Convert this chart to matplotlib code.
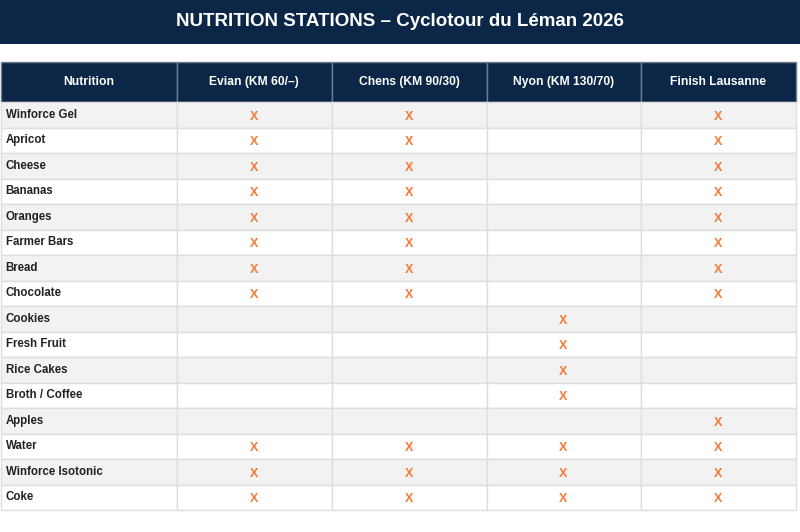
import matplotlib.pyplot as plt
from matplotlib.patches import Rectangle

plt.rcParams['font.family'] = ['Liberation Sans', 'DejaVu Sans']

title = "NUTRITION STATIONS – Cyclotour du Léman 2026"
columns = ["Nutrition", "Evian (KM 60/–)", "Chens (KM 90/30)", "Nyon (KM 130/70)", "Finish Lausanne"]
items = ["Winforce Gel", "Apricot", "Cheese", "Bananas", "Oranges", "Farmer Bars",
         "Bread", "Chocolate", "Cookies", "Fresh Fruit", "Rice Cakes", "Broth / Coffee",
         "Apples", "Water", "Winforce Isotonic", "Coke"]
# 1 = available at station (Evian, Chens, Nyon, Finish)
evian = [1, 1, 1, 1, 1, 1, 1, 1, 0, 0, 0, 0, 0, 1, 1, 1]
chens = [1, 1, 1, 1, 1, 1, 1, 1, 0, 0, 0, 0, 0, 1, 1, 1]
nyon = [0, 0, 0, 0, 0, 0, 0, 0, 1, 1, 1, 1, 0, 1, 1, 1]
finish = [1, 1, 1, 1, 1, 1, 1, 1, 0, 0, 0, 0, 1, 1, 1, 1]
stations = [evian, chens, nyon, finish]

navy = '#0c2647'
orange = '#f47a35'

W, H = 800, 532
fig = plt.figure(figsize=(W / 100, H / 100), dpi=100)
ax = fig.add_axes([0, 0, 1, 1])
ax.set_xlim(0, W)
ax.set_ylim(H, 0)
ax.axis('off')

# title band
ax.add_patch(Rectangle((0, 0), W, 44, facecolor=navy, edgecolor='none'))
ax.text(W / 2, 22, title, color='white', fontsize=13.5, fontweight='bold',
        ha='center', va='center')

col_x = [0.5, 176.5, 331.5, 486.5, 640.5, 795.5]
top, head_h = 62, 40
row_h = (510 - (top + head_h)) / len(items)

# header
for i, name in enumerate(columns):
    x0, x1 = col_x[i], col_x[i + 1]
    ax.add_patch(Rectangle((x0, top), x1 - x0, head_h, facecolor=navy,
                           edgecolor='#6d7b8f', linewidth=1))
    ax.text((x0 + x1) / 2, top + head_h / 2, name, color='white', fontsize=8.7,
            fontweight='bold', ha='center', va='center')

# body
for r, item in enumerate(items):
    y0 = top + head_h + r * row_h
    bg = '#f2f2f2' if r % 2 == 0 else 'white'
    for c in range(len(columns)):
        x0, x1 = col_x[c], col_x[c + 1]
        ax.add_patch(Rectangle((x0, y0), x1 - x0, row_h, facecolor=bg,
                               edgecolor='#dedede', linewidth=1))
    ax.text(col_x[0] + 5, y0 + row_h / 2, item, color='#222222', fontsize=8.3,
            fontweight='bold', ha='left', va='center')
    for c, marks in enumerate(stations):
        if marks[r]:
            ax.text((col_x[c + 1] + col_x[c + 2]) / 2, y0 + row_h / 2 + 1.8, 'X',
                    color=orange, fontsize=9, fontweight='bold',
                    ha='center', va='center')

fig.savefig('out.png', dpi=100)
